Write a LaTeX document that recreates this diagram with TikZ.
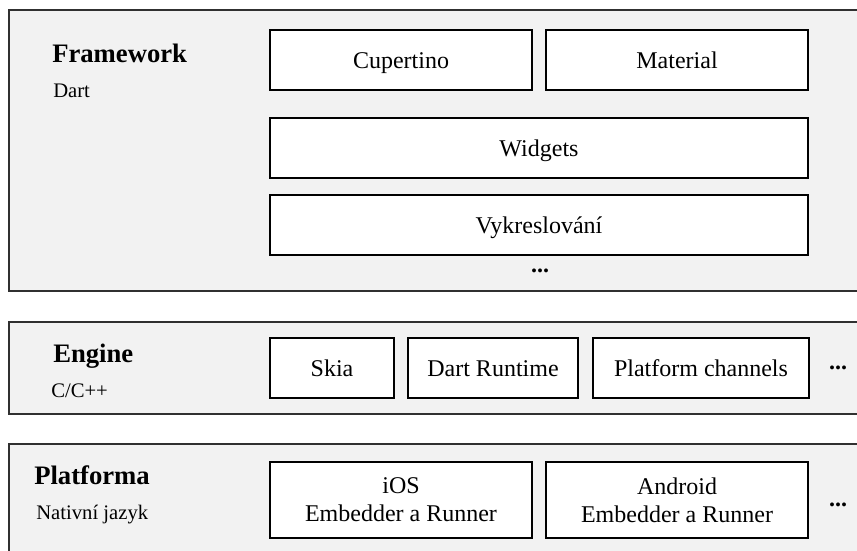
\documentclass[tikz,border=0pt]{standalone}
\usepackage{fontspec}
\setmainfont{Liberation Serif}
\definecolor{panelfill}{HTML}{F2F2F2}
\definecolor{panelline}{HTML}{303030}
\begin{document}
\begin{tikzpicture}[x=0.75pt,y=-0.75pt,
  panel/.style={draw=panelline,fill=panelfill,line width=1.2pt},
  box/.style={draw=black,fill=white,line width=1.2pt,inner sep=0pt,align=center,
    font=\fontsize{18}{21}\selectfont},
  onebox/.style={box,text height=17pt,text depth=5pt},
  title/.style={anchor=base west,inner sep=0pt,font=\fontsize{20}{24}\selectfont\bfseries},
  sub/.style={anchor=base west,inner sep=0pt,font=\fontsize{15.5}{18}\selectfont},
  dots/.style={inner sep=0pt,font=\fontsize{18}{20}\selectfont\bfseries}]
\useasboundingbox (0,0) rectangle (857,550);
\begin{scope}
\clip (0,0) rectangle (857,550);
% panels
\draw[panel] (9,10) rectangle (890,291);
\draw[panel] (9,322) rectangle (890,414);
\draw[panel] (9,444) rectangle (890,600);
\end{scope}
% Framework
\node[title] (fw) at (52,62) {Framework};
\node[sub] (fwl) at (53,97) {Dart};
\node[onebox,minimum width=262*0.75pt,minimum height=60*0.75pt] (cup) at (401,60) {Cupertino};
\node[onebox,minimum width=262*0.75pt,minimum height=60*0.75pt] (mat) at (677,60) {Material};
\node[onebox,minimum width=538*0.75pt,minimum height=60*0.75pt] (wid) at (539,148) {Widgets};
\node[onebox,minimum width=538*0.75pt,minimum height=60*0.75pt] (vyk) at (539,225) {Vykreslování};
\node[dots] (fwdots) at (540,271) {...};
% Engine
\node[title] (en) at (53,362) {Engine};
\node[sub] (enl) at (51,397) {C/C++};
\node[onebox,minimum width=124*0.75pt,minimum height=60*0.75pt] (skia) at (332,368) {Skia};
\node[onebox,minimum width=170*0.75pt,minimum height=60*0.75pt] (drt) at (493,368) {Dart Runtime};
\node[onebox,minimum width=216*0.75pt,minimum height=60*0.75pt] (pch) at (701,368) {Platform channels};
\node[dots] (endots) at (838,368) {...};
% Platform
\node[title] (pl) at (34,484) {Platforma};
\node[sub] (pll) at (36,519) {Nativní jazyk};
\node[box,minimum width=262*0.75pt,minimum height=76*0.75pt] (ios) at (401,500) {iOS\\Embedder a Runner};
\node[box,minimum width=262*0.75pt,minimum height=76*0.75pt] (and) at (677,500) {Android\\Embedder a Runner};
\node[dots] (pldots) at (838,505) {...};
\end{tikzpicture}
\end{document}
